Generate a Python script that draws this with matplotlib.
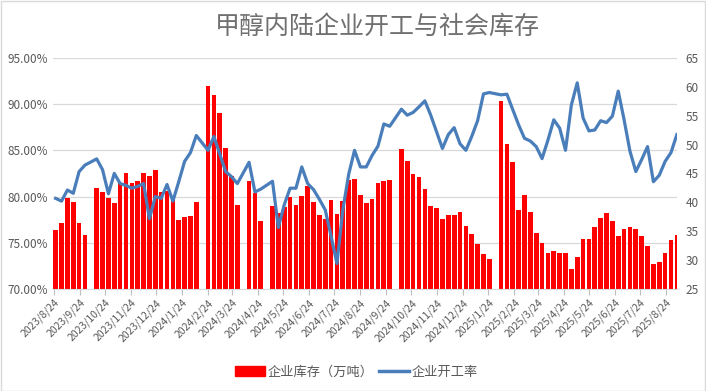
import numpy as np
import pandas as pd
import matplotlib
matplotlib.use("Agg")
import matplotlib.pyplot as plt
from matplotlib.lines import Line2D
from matplotlib.patches import Rectangle

plt.rcParams['font.family'] = ['Noto Sans CJK SC', 'DejaVu Sans']

# weekly data (Thursdays), holiday weeks have no report
holiday_weeks = ['2023-10-05', '2024-02-15', '2024-04-04', '2024-05-02',
                 '2024-10-03', '2025-01-30']
weeks = pd.date_range('2023-08-24', '2025-09-04', freq='7D')
weeks = weeks[~weeks.isin(pd.to_datetime(holiday_weeks))]

# 企业库存（万吨）
stock = [35.2, 36.5, 40.7, 40.1, 36.4, 34.3, 42.5, 41.7, 40.8, 39.8, 43.4, 45.1,
         43.3, 43.7, 45.1, 44.6, 45.6, 41.7,
         42.0, 40.8, 36.9, 37.5, 37.6, 40.0,
         60.2, 58.6, 55.5, 49.4, 44.6, 39.5,
         43.7, 41.6, 36.8,
         39.3, 38.1, 39.1, 40.9, 39.5, 41.1, 42.8, 40.1, 37.8, 37.1, 40.4, 38.0,
         40.3, 43.9, 44.1, 41.3, 39.8,
         40.5, 43.3, 43.7, 43.8,
         49.2, 47.2, 44.9, 44.4, 42.3, 39.3, 39.0, 37.1, 37.8, 37.8, 38.3, 35.9,
         34.5, 32.7, 31.0, 30.1,
         57.6, 50.1, 46.9, 38.6, 41.2, 38.4, 34.6, 32.9, 31.3, 31.6, 31.3, 31.2,
         28.5, 30.5, 33.7, 33.7, 35.7, 37.2, 38.1, 36.8, 34.2, 35.3, 35.8, 35.3,
         34.1, 32.5, 29.4, 29.7, 31.2, 33.5, 34.3]

# 企业开工率（%）
rate = [79.8, 79.5, 80.7, 80.35, 82.7, 83.4, 84.07, 82.9, 80.3, 82.5, 81.4, 81.2,
        80.9, 81.1, 81.4, 77.6, 80.0, 79.8,
        81.3, 79.5, 81.6, 83.8, 84.75, 86.6,
        85.0, 86.5, 84.6, 82.7, 82.15, 81.4,
        83.7, 80.5, 80.8,
        81.65, 76.65, 79.1, 80.9, 80.9, 83.2, 81.4, 80.75, 79.7, 78.55, 75.7, 72.75,
        78.55, 82.4, 85.0, 83.2, 83.2,
        84.45, 85.45, 87.85, 87.6,
        89.45, 88.8, 89.1, 89.7, 90.35, 88.8, 87.0, 85.2, 86.7, 87.45, 85.7, 85.0,
        86.5, 88.2, 91.1, 91.25,
        91.0, 91.07, 89.4, 87.75, 86.3, 86.0, 85.4, 84.1, 86.1, 88.3, 87.4, 85.0,
        89.9, 92.3, 88.5, 87.1, 87.2, 88.2, 88.0, 88.7, 91.4, 88.3, 84.9, 82.7,
        84.0, 85.4, 81.6, 82.3, 83.8, 84.75, 86.7]

tick_dates = pd.date_range('2023-08-01', '2025-08-01', freq='MS') + pd.Timedelta(days=23)
tick_labels = [f"{d.year}/{d.month}/{d.day}" for d in tick_dates]
rate_ticks = [70, 75, 80, 85, 90, 95]
stock_ticks = list(range(25, 70, 5))

grey = '#595959'
fig = plt.figure(figsize=(7.06, 3.91), dpi=100)
ax = fig.add_axes([0.0753, 0.261, 0.884, 0.591])   # bars, right scale
ax2 = ax.twinx()                                   # line, left scale

x = weeks + pd.Timedelta(days=2)
ax.bar(x, stock, width=5.6, color='#FF0000', zorder=2)
ax2.plot(x, rate, color='#4A7EBB', lw=2.3, solid_joinstyle='round')

ax.set_ylim(25, 65)
ax2.set_ylim(70, 95)
ax.set_xlim(weeks[0] - pd.Timedelta(days=1), weeks[-1] + pd.Timedelta(days=2.5))

# gridlines from the left (rate) scale, drawn under the bars
for v in rate_ticks[1:]:
    ax.add_line(Line2D([0, 1], [v, v], transform=ax2.get_yaxis_transform(),
                       color='#D9D9D9', lw=0.9, zorder=0))

ax.yaxis.tick_right()
ax.set_yticks(stock_ticks)
ax.tick_params(axis='y', length=0, labelsize=8.5, labelcolor=grey, pad=6)
ax2.yaxis.tick_left()
ax2.set_yticks(rate_ticks)
ax2.set_yticklabels([f"{v:.2f}%" for v in rate_ticks])
ax2.tick_params(axis='y', length=0, labelsize=8.5, labelcolor=grey, pad=4)

ax.set_xticks(tick_dates)
ax.set_xticklabels(tick_labels, rotation=45, ha='right', rotation_mode='anchor')
ax.tick_params(axis='x', length=4, color='#BFBFBF', labelsize=7.5, labelcolor=grey, pad=2)
ax2.tick_params(axis='x', bottom=False, labelbottom=False)

for a in (ax, ax2):
    for s in a.spines.values():
        s.set_visible(False)
ax.spines['bottom'].set_visible(True)
ax.spines['bottom'].set_color('#D9D9D9')

fig.text(0.534, 0.931, '甲醇内陆企业开工与社会库存', ha='center', va='center',
         fontsize=18, color='#707070')

handles = [Rectangle((0, 0), 1, 1, facecolor='#FF0000', edgecolor='#FF0000'),
           Line2D([], [], color='#4A7EBB', lw=2.5)]
fig.legend(handles, ['企业库存（万吨）', '企业开工率'], loc='center',
           bbox_to_anchor=(0.505, 0.048), ncol=2, frameon=False, fontsize=9.5,
           handlelength=2.3, handletextpad=0.2, columnspacing=0.4,
           labelcolor=grey)

fig.patches.append(Rectangle((0.001, 0.001), 0.997, 0.997, transform=fig.transFigure,
                             fill=False, edgecolor='#D9D9D9', lw=1))

fig.savefig('out.png', dpi=100)
